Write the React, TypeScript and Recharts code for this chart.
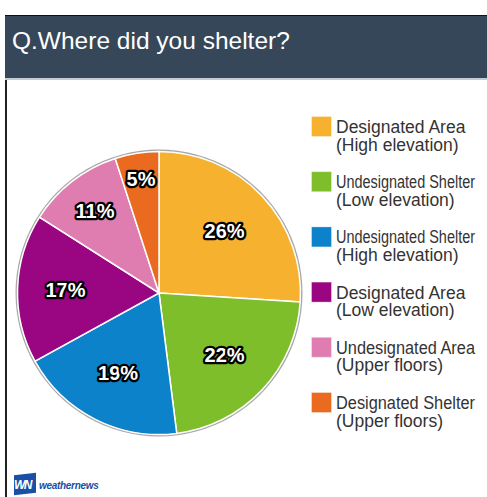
import React from "react";
import { Legend, Pie, PieChart } from "recharts";

const categories = [
  "Designated Area (High elevation)",
  "Undesignated Shelter (Low elevation)",
  "Undesignated Shelter (High elevation)",
  "Designated Area (Low elevation)",
  "Undesignated Area (Upper floors)",
  "Designated Shelter (Upper floors)",
];
const shares = [26, 22, 19, 17, 11, 5];
const colors = ["#f6b12f", "#7dbe2a", "#0b82c9", "#9a0582", "#e07db0", "#ea6b1f"];

const data = categories.map((name, i) => ({ name, value: shares[i], fill: colors[i] }));
const RADIAN = Math.PI / 180;
const FONT = "'Liberation Sans', Arial, sans-serif";
const NARROW = "'Liberation Sans Narrow', 'Liberation Sans', sans-serif";

function renderLabel(props: any) {
  const { cx, cy, midAngle, value } = props;
  // small slices sit further out, like the original
  const r = 90 + Math.max(0, 19 - value) * 1.8;
  const x = cx + r * Math.cos(-midAngle * RADIAN);
  const y = cy + r * Math.sin(-midAngle * RADIAN);
  return (
    <text
      x={x}
      y={y}
      textAnchor="middle"
      dominantBaseline="central"
      fontFamily={FONT}
      fontWeight="bold"
      fontSize={20}
      fill="#fff"
      stroke="#000"
      strokeWidth={4.5}
      strokeLinejoin="round"
      paintOrder="stroke"
    >
      {value}%
    </text>
  );
}

// legend keeps the data order (recharts would sort it by name)
function renderLegend() {
  return (
    <svg width={176} height={330} style={{ display: "block" }}>
      {categories.map((name, i) => {
        const top = i * 55.2;
        const cut = name.indexOf(" (");
        const lines = [name.slice(0, cut), name.slice(cut + 1)];
        return (
          <g key={name}>
            <rect x={0.5} y={top + 0.5} width={20} height={20} fill={colors[i]} stroke="#fff" strokeOpacity={0.35} />
            <text x={25} y={top + 17} fontFamily={FONT} fontSize={17.5} fill="#333">
              {lines.map((line, j) => {
                const long = line.length > 16;
                return (
                  <tspan
                    key={j}
                    x={25}
                    dy={j === 0 ? 0 : 17.5}
                    fontFamily={long ? NARROW : FONT}
                    textLength={long ? 139 : undefined}
                    lengthAdjust="spacingAndGlyphs"
                  >
                    {line}
                  </tspan>
                );
              })}
            </text>
          </g>
        );
      })}
    </svg>
  );
}

export default function App() {
  return (
    <div style={{ position: "absolute", left: 0, top: 0, width: 487, height: 497, background: "#fff", overflow: "hidden" }}>
      <div style={{ position: "absolute", left: 5, top: 15, width: 2, height: 482, background: "#222" }} />
      <div
        style={{
          position: "absolute",
          left: 5,
          top: 15,
          width: 482,
          height: 62,
          background: "#36475a",
          borderTop: "1px solid #111",
          borderBottom: "2px solid #c3cbd3",
        }}
      />
      <div
        style={{
          position: "absolute",
          left: 12,
          top: 27,
          color: "#fff",
          fontFamily: FONT,
          fontSize: 24.5,
          lineHeight: "28px",
          whiteSpace: "nowrap",
        }}
      >
        Q.Where did you shelter?
      </div>

      <div style={{ position: "absolute", left: 0, top: 0 }}>
        <PieChart width={487} height={497} margin={{ top: 0, right: 0, bottom: 0, left: 0 }}>
          <Pie
            data={[{ name: "ring", value: 1 }]}
            dataKey="value"
            cx={159}
            cy={293}
            outerRadius={143.5}
            fill="#a8a8a8"
            stroke="none"
            legendType="none"
            isAnimationActive={false}
          />
          <Pie
            data={data}
            dataKey="value"
            nameKey="name"
            cx={159}
            cy={293}
            outerRadius={141.5}
            startAngle={90}
            endAngle={-270}
            stroke="#fff"
            strokeWidth={1.5}
            label={renderLabel}
            labelLine={false}
            isAnimationActive={false}
          />
          <Legend
            layout="vertical"
            verticalAlign="top"
            align="right"
            content={renderLegend}
            wrapperStyle={{ left: 311, top: 116, width: 176, right: "auto" }}
          />
        </PieChart>
      </div>

      <div style={{ position: "absolute", left: 14, top: 474, width: 22, height: 20 }}>
        <div
          style={{
            position: "absolute",
            inset: 0,
            background: "#1a4fa6",
            transform: "skewY(-6deg)",
          }}
        />
        <div
          style={{
            position: "absolute",
            left: 0,
            top: 4,
            width: 24,
            color: "#fff",
            fontFamily: FONT,
            fontWeight: "bold",
            fontStyle: "italic",
            fontSize: 12,
            lineHeight: "14px",
            letterSpacing: -1.5,
          }}
        >
          WN
        </div>
      </div>
      <div
        style={{
          position: "absolute",
          left: 39,
          top: 480,
          color: "#1a4fa6",
          fontFamily: FONT,
          fontWeight: "bold",
          fontStyle: "italic",
          fontSize: 10,
          lineHeight: "12px",
          letterSpacing: -0.3,
        }}
      >
        weathernews
      </div>
    </div>
  );
}
